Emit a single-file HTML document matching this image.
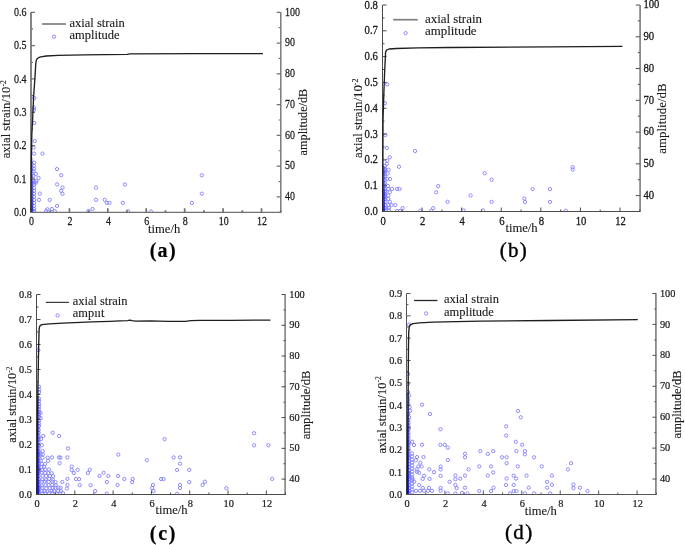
<!DOCTYPE html>
<html><head><meta charset="utf-8"><style>
html,body{margin:0;padding:0;background:#fff;width:685px;height:545px;overflow:hidden}
svg{display:block;will-change:transform}
text{font-family:"Liberation Serif", serif;fill:#1a1a1a;stroke:#1a1a1a;stroke-width:0.12px}
.lb{fill:#000;stroke:#000;stroke-width:0.2px}
.lb.r{stroke-width:0.4px}
.ax{fill:none}
.cv{fill:none;stroke:#1e1e1e;stroke-width:1.35;stroke-linejoin:round}
.sc{fill:none;stroke:#8080ff;stroke-width:0.9}
</style></head><body>
<svg width="685" height="545" viewBox="0 0 685 545">
<defs><clipPath id="ca"><rect x="31" y="7.3" width="249.7" height="205"/></clipPath><linearGradient id="ga" x1="0" y1="0" x2="0" y2="1"><stop offset="0" stop-color="#1818ff" stop-opacity="0.25"/><stop offset="1" stop-color="#1818ff" stop-opacity="0.85"/></linearGradient><clipPath id="cb"><rect x="382.5" y="0" width="257.3" height="211.5"/></clipPath><linearGradient id="gb" x1="0" y1="0" x2="0" y2="1"><stop offset="0" stop-color="#1818ff" stop-opacity="0.3"/><stop offset="1" stop-color="#1818ff" stop-opacity="0.9"/></linearGradient><clipPath id="cc"><rect x="36.5" y="289.5" width="249" height="205"/></clipPath><linearGradient id="gc" x1="0" y1="0" x2="0" y2="1"><stop offset="0" stop-color="#1818ff" stop-opacity="0.35"/><stop offset="1" stop-color="#1818ff" stop-opacity="1.0"/></linearGradient><clipPath id="cd"><rect x="406.5" y="288.5" width="249.8" height="206"/></clipPath><linearGradient id="gd" x1="0" y1="0" x2="0" y2="1"><stop offset="0" stop-color="#1818ff" stop-opacity="0.35"/><stop offset="1" stop-color="#1818ff" stop-opacity="1.0"/></linearGradient></defs>
<g><g class="sc" clip-path="url(#ca)"><circle cx="34.2" cy="98.1" r="1.65"/><circle cx="34" cy="107.6" r="1.65"/><circle cx="34" cy="109.8" r="1.65"/><circle cx="34.2" cy="123" r="1.65"/><circle cx="34.7" cy="141.1" r="1.65"/><circle cx="33.6" cy="147.6" r="1.65"/><circle cx="34.1" cy="153.6" r="1.65"/><circle cx="42.5" cy="153.6" r="1.65"/><circle cx="34.1" cy="162.7" r="1.65"/><circle cx="33.8" cy="165.8" r="1.65"/><circle cx="34.1" cy="168.8" r="1.65"/><circle cx="33.5" cy="171.2" r="1.65"/><circle cx="35.9" cy="173.9" r="1.65"/><circle cx="38.6" cy="177.9" r="1.65"/><circle cx="33.5" cy="176" r="1.65"/><circle cx="33.5" cy="180.9" r="1.65"/><circle cx="36.5" cy="180.9" r="1.65"/><circle cx="57" cy="169.1" r="1.65"/><circle cx="61.2" cy="175.2" r="1.65"/><circle cx="57.1" cy="184.4" r="1.65"/><circle cx="62.5" cy="187.5" r="1.65"/><circle cx="61.2" cy="190.8" r="1.65"/><circle cx="62.5" cy="193.8" r="1.65"/><circle cx="39.8" cy="193.6" r="1.65"/><circle cx="38.9" cy="199.9" r="1.65"/><circle cx="49.7" cy="199.9" r="1.65"/><circle cx="57" cy="205.9" r="1.65"/><circle cx="47.4" cy="209.3" r="1.65"/><circle cx="51.9" cy="209" r="1.65"/><circle cx="46.2" cy="211.1" r="1.65"/><circle cx="54.7" cy="211.1" r="1.65"/><circle cx="35.9" cy="182.6" r="1.65"/><circle cx="96" cy="187.6" r="1.65"/><circle cx="96" cy="199.8" r="1.65"/><circle cx="92.5" cy="209" r="1.65"/><circle cx="88.4" cy="211" r="1.65"/><circle cx="104.7" cy="199.8" r="1.65"/><circle cx="106.8" cy="202.9" r="1.65"/><circle cx="109.5" cy="202.9" r="1.65"/><circle cx="124.9" cy="184.5" r="1.65"/><circle cx="122.8" cy="202.9" r="1.65"/><circle cx="128" cy="211.3" r="1.65"/><circle cx="151" cy="211.6" r="1.65"/><circle cx="191.9" cy="202.9" r="1.65"/><circle cx="201.8" cy="175.3" r="1.65"/><circle cx="201.8" cy="193.7" r="1.65"/><circle cx="34.1" cy="182.6" r="1.65"/><circle cx="34.1" cy="184.7" r="1.65"/><circle cx="34.1" cy="188" r="1.65"/><circle cx="34.1" cy="190.8" r="1.65"/><circle cx="34.1" cy="193.8" r="1.65"/><circle cx="34.1" cy="196.8" r="1.65"/><circle cx="34.1" cy="199.9" r="1.65"/><circle cx="34.1" cy="202.9" r="1.65"/><circle cx="34.1" cy="205.9" r="1.65"/><circle cx="34.1" cy="209" r="1.65"/><circle cx="34.1" cy="211.1" r="1.65"/></g><rect x="31.3" y="158" width="2" height="54" fill="url(#ga)"/><path class="ax" stroke="#707070" stroke-width="1.7" d="M31 12.3V212.9"/><path class="ax" stroke="#727272" stroke-width="1.4" d="M280.8 12.3V212.9"/><path class="ax" stroke="#707070" stroke-width="1.2" d="M31 212.3H280.7"/><text class="tk" style="stroke-width:0.25px" transform="translate(26.4,215.9) scale(0.86,1)" font-size="11.6" text-anchor="end">0.0</text><text class="tk" style="stroke-width:0.25px" transform="translate(26.4,182.57) scale(0.86,1)" font-size="11.6" text-anchor="end">0.1</text><text class="tk" style="stroke-width:0.25px" transform="translate(26.4,149.23) scale(0.86,1)" font-size="11.6" text-anchor="end">0.2</text><text class="tk" style="stroke-width:0.25px" transform="translate(26.4,115.9) scale(0.86,1)" font-size="11.6" text-anchor="end">0.3</text><text class="tk" style="stroke-width:0.25px" transform="translate(26.4,82.57) scale(0.86,1)" font-size="11.6" text-anchor="end">0.4</text><text class="tk" style="stroke-width:0.25px" transform="translate(26.4,49.23) scale(0.86,1)" font-size="11.6" text-anchor="end">0.5</text><text class="tk" style="stroke-width:0.25px" transform="translate(26.4,15.9) scale(0.86,1)" font-size="11.6" text-anchor="end">0.6</text><text class="tk" style="stroke-width:0.25px" transform="translate(285,200.24) scale(0.86,1)" font-size="11.6" text-anchor="start">40</text><text class="tk" style="stroke-width:0.25px" transform="translate(285,169.47) scale(0.86,1)" font-size="11.6" text-anchor="start">50</text><text class="tk" style="stroke-width:0.25px" transform="translate(285,138.7) scale(0.86,1)" font-size="11.6" text-anchor="start">60</text><text class="tk" style="stroke-width:0.25px" transform="translate(285,107.94) scale(0.86,1)" font-size="11.6" text-anchor="start">70</text><text class="tk" style="stroke-width:0.25px" transform="translate(285,77.17) scale(0.86,1)" font-size="11.6" text-anchor="start">80</text><text class="tk" style="stroke-width:0.25px" transform="translate(285,46.4) scale(0.86,1)" font-size="11.6" text-anchor="start">90</text><text class="tk" style="stroke-width:0.25px" transform="translate(285,15.63) scale(0.86,1)" font-size="11.6" text-anchor="start">100</text><text class="tk" style="stroke-width:0.25px" transform="translate(31.6,225.2) scale(0.86,1)" font-size="11.6" text-anchor="middle">0</text><text class="tk" style="stroke-width:0.25px" transform="translate(70.02,225.2) scale(0.86,1)" font-size="11.6" text-anchor="middle">2</text><text class="tk" style="stroke-width:0.25px" transform="translate(108.43,225.2) scale(0.86,1)" font-size="11.6" text-anchor="middle">4</text><text class="tk" style="stroke-width:0.25px" transform="translate(146.85,225.2) scale(0.86,1)" font-size="11.6" text-anchor="middle">6</text><text class="tk" style="stroke-width:0.25px" transform="translate(185.26,225.2) scale(0.86,1)" font-size="11.6" text-anchor="middle">8</text><text class="tk" style="stroke-width:0.25px" transform="translate(223.68,225.2) scale(0.86,1)" font-size="11.6" text-anchor="middle">10</text><text class="tk" style="stroke-width:0.25px" transform="translate(262.09,225.2) scale(0.86,1)" font-size="11.6" text-anchor="middle">12</text><path class="ax" stroke="#707070" stroke-width="1.7" d="M31 212.3v-4M50.21 212.3v-2M69.42 212.3v-4M88.62 212.3v-2M107.83 212.3v-4M127.04 212.3v-2M146.25 212.3v-4M165.45 212.3v-2M184.66 212.3v-4M203.87 212.3v-2M223.08 212.3v-4M242.28 212.3v-2M261.49 212.3v-4M280.7 212.3v-2"/><path class="ax" stroke="#707070" stroke-width="1.2" d="M31 212.3h4M31 195.63h2M31 178.97h4M31 162.3h2M31 145.63h4M31 128.97h2M31 112.3h4M31 95.63h2M31 78.97h4M31 62.3h2M31 45.63h4M31 28.97h2M31 12.3h4M280.7 196.92h-4M280.7 181.53h-2M280.7 166.15h-4M280.7 150.76h-2M280.7 135.38h-4M280.7 119.99h-2M280.7 104.61h-4M280.7 89.22h-2M280.7 73.84h-4M280.7 58.45h-2M280.7 43.07h-4M280.7 27.68h-2M280.7 12.3h-4"/><polyline class="cv" points="31,212 31.2,170 31.8,135 32.6,120 33.7,95 34.9,78.5 35.8,63.3 36.4,60 37.2,58.8 38.5,57.7 40.8,56.9 46.3,56 58,55.4 84.5,54.8 127,54.4 130,53.9 200,53.7 263,53.6"/><path fill="none" stroke="#7e7e7e" stroke-width="1.7" d="M42 24H66"/><circle class="sc" cx="54" cy="36.7" r="1.65"/><text class="lg" font-size="12.5" x="69.5" y="26.7">axial strain</text><text class="lg" font-size="12.5" x="69.5" y="39.4">amplitude</text><text class="ti" font-size="12.6" transform="translate(10.2,119.3) rotate(-90)" text-anchor="middle">axial strain/10<tspan dy="-4.5" font-size="7.6">-2</tspan></text><text class="ti" font-size="12.25" transform="translate(306.8,122.05) rotate(-90)" text-anchor="middle">amplitude/dB</text><text class="ti" font-size="12.55" x="148.1" y="233.2">time/h</text><text class="lb" font-size="20" letter-spacing="1.3" x="163.25" y="256.7" text-anchor="middle" font-weight="bold">(a)</text></g>
<g><g class="sc" clip-path="url(#cb)"><circle cx="387.1" cy="84.3" r="1.65"/><circle cx="384.9" cy="103.3" r="1.65"/><circle cx="385.4" cy="135.1" r="1.65"/><circle cx="386.8" cy="147.9" r="1.65"/><circle cx="415.1" cy="151" r="1.65"/><circle cx="389.8" cy="157.3" r="1.65"/><circle cx="387.2" cy="160.6" r="1.65"/><circle cx="386.8" cy="163.9" r="1.65"/><circle cx="399" cy="166.8" r="1.65"/><circle cx="385" cy="170.1" r="1.65"/><circle cx="388.7" cy="169.8" r="1.65"/><circle cx="387.6" cy="173.5" r="1.65"/><circle cx="385" cy="176.4" r="1.65"/><circle cx="387.2" cy="179" r="1.65"/><circle cx="390.1" cy="179" r="1.65"/><circle cx="385" cy="183.1" r="1.65"/><circle cx="387.9" cy="186" r="1.65"/><circle cx="385" cy="189" r="1.65"/><circle cx="388.3" cy="189" r="1.65"/><circle cx="392" cy="189" r="1.65"/><circle cx="397.1" cy="189" r="1.65"/><circle cx="399.5" cy="189" r="1.65"/><circle cx="385.7" cy="192.3" r="1.65"/><circle cx="389.8" cy="192.3" r="1.65"/><circle cx="385" cy="195.6" r="1.65"/><circle cx="388.3" cy="195.6" r="1.65"/><circle cx="385" cy="198.9" r="1.65"/><circle cx="388.3" cy="198.9" r="1.65"/><circle cx="385.4" cy="201.8" r="1.65"/><circle cx="389.8" cy="201.8" r="1.65"/><circle cx="385.4" cy="205.1" r="1.65"/><circle cx="388.3" cy="205.1" r="1.65"/><circle cx="391.6" cy="205.1" r="1.65"/><circle cx="395.3" cy="205.1" r="1.65"/><circle cx="385" cy="208.1" r="1.65"/><circle cx="389" cy="208.1" r="1.65"/><circle cx="402.6" cy="208.1" r="1.65"/><circle cx="385.4" cy="210.3" r="1.65"/><circle cx="389" cy="210.3" r="1.65"/><circle cx="397.1" cy="211" r="1.65"/><circle cx="400" cy="211" r="1.65"/><circle cx="438.2" cy="186.1" r="1.65"/><circle cx="436.2" cy="192.3" r="1.65"/><circle cx="447.6" cy="201.8" r="1.65"/><circle cx="470.6" cy="195.5" r="1.65"/><circle cx="433.2" cy="208.2" r="1.65"/><circle cx="431.2" cy="210.8" r="1.65"/><circle cx="420.3" cy="210.8" r="1.65"/><circle cx="463.6" cy="210.4" r="1.65"/><circle cx="484.7" cy="173.3" r="1.65"/><circle cx="491.6" cy="179.6" r="1.65"/><circle cx="491.6" cy="201.9" r="1.65"/><circle cx="483.1" cy="210.4" r="1.65"/><circle cx="524.3" cy="198.5" r="1.65"/><circle cx="525" cy="201.9" r="1.65"/><circle cx="532.6" cy="189.1" r="1.65"/><circle cx="550" cy="189.1" r="1.65"/><circle cx="550" cy="201.9" r="1.65"/><circle cx="572.7" cy="167.1" r="1.65"/><circle cx="572.7" cy="169.6" r="1.65"/><circle cx="565.8" cy="210.8" r="1.65"/><circle cx="384.9" cy="166" r="1.65"/><circle cx="384.9" cy="168.8" r="1.65"/><circle cx="384.9" cy="171.6" r="1.65"/><circle cx="384.9" cy="174.4" r="1.65"/><circle cx="384.9" cy="180" r="1.65"/><circle cx="384.9" cy="185.6" r="1.65"/><circle cx="384.9" cy="191.2" r="1.65"/><circle cx="384.9" cy="194" r="1.65"/><circle cx="384.9" cy="196.8" r="1.65"/></g><rect x="383.2" y="166" width="2" height="45" fill="url(#gb)"/><path class="ax" stroke="#4a4a4a" stroke-width="1.0" d="M382.5 5V212"/><path class="ax" stroke="#8a8a8a" stroke-width="1.8" d="M640.1 5V212"/><path class="ax" stroke="#4a4a4a" stroke-width="1.0" d="M382.5 211.5H639.8"/><text class="tk" style="stroke-width:0.3px" transform="translate(377.9,215.1) scale(0.92,1)" font-size="11.6" text-anchor="end">0.0</text><text class="tk" style="stroke-width:0.3px" transform="translate(377.9,189.29) scale(0.92,1)" font-size="11.6" text-anchor="end">0.1</text><text class="tk" style="stroke-width:0.3px" transform="translate(377.9,163.47) scale(0.92,1)" font-size="11.6" text-anchor="end">0.2</text><text class="tk" style="stroke-width:0.3px" transform="translate(377.9,137.66) scale(0.92,1)" font-size="11.6" text-anchor="end">0.3</text><text class="tk" style="stroke-width:0.3px" transform="translate(377.9,111.85) scale(0.92,1)" font-size="11.6" text-anchor="end">0.4</text><text class="tk" style="stroke-width:0.3px" transform="translate(377.9,86.04) scale(0.92,1)" font-size="11.6" text-anchor="end">0.5</text><text class="tk" style="stroke-width:0.3px" transform="translate(377.9,60.22) scale(0.92,1)" font-size="11.6" text-anchor="end">0.6</text><text class="tk" style="stroke-width:0.3px" transform="translate(377.9,34.41) scale(0.92,1)" font-size="11.6" text-anchor="end">0.7</text><text class="tk" style="stroke-width:0.3px" transform="translate(377.9,8.6) scale(0.92,1)" font-size="11.6" text-anchor="end">0.8</text><text class="tk" style="stroke-width:0.3px" transform="translate(643.4,198.94) scale(0.92,1)" font-size="11.6" text-anchor="start">40</text><text class="tk" style="stroke-width:0.3px" transform="translate(643.4,167.17) scale(0.92,1)" font-size="11.6" text-anchor="start">50</text><text class="tk" style="stroke-width:0.3px" transform="translate(643.4,135.4) scale(0.92,1)" font-size="11.6" text-anchor="start">60</text><text class="tk" style="stroke-width:0.3px" transform="translate(643.4,103.64) scale(0.92,1)" font-size="11.6" text-anchor="start">70</text><text class="tk" style="stroke-width:0.3px" transform="translate(643.4,71.87) scale(0.92,1)" font-size="11.6" text-anchor="start">80</text><text class="tk" style="stroke-width:0.3px" transform="translate(643.4,40.1) scale(0.92,1)" font-size="11.6" text-anchor="start">90</text><text class="tk" style="stroke-width:0.3px" transform="translate(643.4,8.33) scale(0.92,1)" font-size="11.6" text-anchor="start">100</text><text class="tk" style="stroke-width:0.3px" transform="translate(383.1,224.6) scale(0.92,1)" font-size="11.6" text-anchor="middle">0</text><text class="tk" style="stroke-width:0.3px" transform="translate(422.68,224.6) scale(0.92,1)" font-size="11.6" text-anchor="middle">2</text><text class="tk" style="stroke-width:0.3px" transform="translate(462.27,224.6) scale(0.92,1)" font-size="11.6" text-anchor="middle">4</text><text class="tk" style="stroke-width:0.3px" transform="translate(501.85,224.6) scale(0.92,1)" font-size="11.6" text-anchor="middle">6</text><text class="tk" style="stroke-width:0.3px" transform="translate(541.44,224.6) scale(0.92,1)" font-size="11.6" text-anchor="middle">8</text><text class="tk" style="stroke-width:0.3px" transform="translate(581.02,224.6) scale(0.92,1)" font-size="11.6" text-anchor="middle">10</text><text class="tk" style="stroke-width:0.3px" transform="translate(620.61,224.6) scale(0.92,1)" font-size="11.6" text-anchor="middle">12</text><path class="ax" stroke="#4a4a4a" stroke-width="1.0" d="M382.5 211.5v-4M402.29 211.5v-2M422.08 211.5v-4M441.88 211.5v-2M461.67 211.5v-4M481.46 211.5v-2M501.25 211.5v-4M521.05 211.5v-2M540.84 211.5v-4M560.63 211.5v-2M580.42 211.5v-4M600.22 211.5v-2M620.01 211.5v-4M639.8 211.5v-2"/><path class="ax" stroke="#4a4a4a" stroke-width="1.0" d="M382.5 211.5h4M382.5 198.59h2M382.5 185.69h4M382.5 172.78h2M382.5 159.88h4M382.5 146.97h2M382.5 134.06h4M382.5 121.16h2M382.5 108.25h4M382.5 95.34h2M382.5 82.44h4M382.5 69.53h2M382.5 56.62h4M382.5 43.72h2M382.5 30.81h4M382.5 17.91h2M382.5 5h4M639.8 195.62h-4M639.8 179.73h-2M639.8 163.85h-4M639.8 147.96h-2M639.8 132.08h-4M639.8 116.19h-2M639.8 100.31h-4M639.8 84.42h-2M639.8 68.54h-4M639.8 52.65h-2M639.8 36.77h-4M639.8 20.88h-2M639.8 5h-4"/><polyline class="cv" points="382.8,211.3 383,120 383.8,95 384.5,75 385,64.4 385.4,56.3 385.6,51.9 386.5,50.1 389,49 396.4,48.5 418,47.9 450,47.5 550,46.9 622.5,46.4"/><path fill="none" stroke="#7e7e7e" stroke-width="1.7" d="M393.2 19.7H417.7"/><circle class="sc" cx="405.6" cy="33.1" r="1.65"/><text class="lg" font-size="12.9" x="425" y="22.6">axial strain</text><text class="lg" font-size="12.9" x="425" y="35.4">amplitude</text><text class="ti" font-size="12.8" transform="translate(362,118.4) rotate(-90)" text-anchor="middle">axial strain/10<tspan dy="-4.5" font-size="7.7">-2</tspan></text><text class="ti" font-size="12.9" transform="translate(666,118.6) rotate(-90)" text-anchor="middle">amplitude/dB</text><text class="ti" font-size="12.65" x="505.4" y="231.6">time/h</text><text class="lb r" font-size="21" letter-spacing="1.2" x="513.8" y="257" text-anchor="middle">(b)</text></g>
<g><g class="sc" clip-path="url(#cc)"><circle cx="38.3" cy="350.1" r="1.65"/><circle cx="39" cy="386.7" r="1.65"/><circle cx="39" cy="389.6" r="1.65"/><circle cx="39" cy="392.1" r="1.65"/><circle cx="39" cy="398.7" r="1.65"/><circle cx="39" cy="401.2" r="1.65"/><circle cx="39" cy="404.1" r="1.65"/><circle cx="39" cy="406.6" r="1.65"/><circle cx="39" cy="409.4" r="1.65"/><circle cx="39" cy="411.9" r="1.65"/><circle cx="39" cy="414.4" r="1.65"/><circle cx="39" cy="416.9" r="1.65"/><circle cx="39" cy="420.6" r="1.65"/><circle cx="39" cy="423.5" r="1.65"/><circle cx="39" cy="426" r="1.65"/><circle cx="40.6" cy="413" r="1.65"/><circle cx="40.6" cy="418" r="1.65"/><circle cx="38.6" cy="429.8" r="1.65"/><circle cx="38.6" cy="432.7" r="1.65"/><circle cx="38.6" cy="436" r="1.65"/><circle cx="38.6" cy="439" r="1.65"/><circle cx="38.6" cy="442.3" r="1.65"/><circle cx="38.6" cy="445.2" r="1.65"/><circle cx="38.6" cy="448.2" r="1.65"/><circle cx="38.6" cy="451.1" r="1.65"/><circle cx="38.6" cy="454.4" r="1.65"/><circle cx="38.6" cy="457.4" r="1.65"/><circle cx="38.6" cy="461" r="1.65"/><circle cx="38.6" cy="464" r="1.65"/><circle cx="43.3" cy="436" r="1.65"/><circle cx="52.7" cy="432.9" r="1.65"/><circle cx="59.1" cy="436" r="1.65"/><circle cx="41.1" cy="439" r="1.65"/><circle cx="41.8" cy="445.2" r="1.65"/><circle cx="68.1" cy="448.4" r="1.65"/><circle cx="42.6" cy="451.1" r="1.65"/><circle cx="42.9" cy="454.4" r="1.65"/><circle cx="40.4" cy="454.4" r="1.65"/><circle cx="42.6" cy="457.7" r="1.65"/><circle cx="47.7" cy="457.7" r="1.65"/><circle cx="52" cy="457.4" r="1.65"/><circle cx="59.1" cy="457.4" r="1.65"/><circle cx="67.4" cy="457.4" r="1.65"/><circle cx="48.1" cy="460.8" r="1.65"/><circle cx="40.7" cy="460.8" r="1.65"/><circle cx="59.6" cy="463.2" r="1.65"/><circle cx="41.84" cy="463.93" r="1.65"/><circle cx="45.07" cy="463.91" r="1.65"/><circle cx="38.55" cy="466.46" r="1.65"/><circle cx="41.45" cy="467.06" r="1.65"/><circle cx="44.24" cy="466.9" r="1.65"/><circle cx="38.66" cy="469.72" r="1.65"/><circle cx="42.21" cy="470.09" r="1.65"/><circle cx="45.43" cy="469.49" r="1.65"/><circle cx="49.14" cy="469.54" r="1.65"/><circle cx="38.71" cy="472.9" r="1.65"/><circle cx="41.71" cy="472.65" r="1.65"/><circle cx="45.25" cy="472.94" r="1.65"/><circle cx="48.35" cy="472.96" r="1.65"/><circle cx="51.68" cy="473.16" r="1.65"/><circle cx="38.66" cy="476.02" r="1.65"/><circle cx="42.63" cy="475.83" r="1.65"/><circle cx="46.12" cy="475.93" r="1.65"/><circle cx="49.86" cy="475.99" r="1.65"/><circle cx="53.12" cy="476.21" r="1.65"/><circle cx="38.9" cy="479.15" r="1.65"/><circle cx="42.31" cy="479.36" r="1.65"/><circle cx="45.85" cy="479.66" r="1.65"/><circle cx="49.08" cy="478.95" r="1.65"/><circle cx="52.71" cy="479.69" r="1.65"/><circle cx="38.43" cy="481.81" r="1.65"/><circle cx="41.82" cy="481.87" r="1.65"/><circle cx="44.9" cy="481.55" r="1.65"/><circle cx="48.63" cy="481.7" r="1.65"/><circle cx="52.49" cy="481.56" r="1.65"/><circle cx="55.57" cy="482.21" r="1.65"/><circle cx="38.89" cy="485.02" r="1.65"/><circle cx="41.79" cy="485.51" r="1.65"/><circle cx="45.57" cy="484.94" r="1.65"/><circle cx="48.71" cy="485.19" r="1.65"/><circle cx="52.24" cy="484.8" r="1.65"/><circle cx="55.63" cy="485.25" r="1.65"/><circle cx="38.75" cy="488.11" r="1.65"/><circle cx="42.28" cy="487.74" r="1.65"/><circle cx="46.24" cy="488.4" r="1.65"/><circle cx="49.69" cy="488.02" r="1.65"/><circle cx="52.81" cy="487.75" r="1.65"/><circle cx="55.35" cy="487.83" r="1.65"/><circle cx="58.43" cy="487.7" r="1.65"/><circle cx="38.28" cy="490.99" r="1.65"/><circle cx="41.73" cy="491.19" r="1.65"/><circle cx="44.21" cy="490.98" r="1.65"/><circle cx="47.34" cy="491.38" r="1.65"/><circle cx="51.61" cy="491.09" r="1.65"/><circle cx="54.22" cy="490.97" r="1.65"/><circle cx="57.92" cy="490.83" r="1.65"/><circle cx="60.85" cy="491.12" r="1.65"/><circle cx="38.63" cy="492.92" r="1.65"/><circle cx="42.42" cy="493.59" r="1.65"/><circle cx="45.48" cy="493.19" r="1.65"/><circle cx="48.89" cy="493.33" r="1.65"/><circle cx="52.27" cy="493.08" r="1.65"/><circle cx="56.57" cy="493.58" r="1.65"/><circle cx="60.2" cy="493.49" r="1.65"/><circle cx="63.03" cy="493.18" r="1.65"/><circle cx="60.5" cy="457.6" r="1.65"/><circle cx="71.7" cy="466.6" r="1.65"/><circle cx="71.7" cy="470" r="1.65"/><circle cx="73.8" cy="473" r="1.65"/><circle cx="77.6" cy="469.8" r="1.65"/><circle cx="89.8" cy="469.8" r="1.65"/><circle cx="87.9" cy="473" r="1.65"/><circle cx="103.6" cy="472.8" r="1.65"/><circle cx="99.6" cy="476" r="1.65"/><circle cx="108.4" cy="476" r="1.65"/><circle cx="67.4" cy="478.8" r="1.65"/><circle cx="76" cy="479.1" r="1.65"/><circle cx="79.1" cy="479.1" r="1.65"/><circle cx="62.3" cy="482" r="1.65"/><circle cx="67.4" cy="484.9" r="1.65"/><circle cx="66.9" cy="488.4" r="1.65"/><circle cx="79.7" cy="485.2" r="1.65"/><circle cx="90.6" cy="485.2" r="1.65"/><circle cx="106.8" cy="482" r="1.65"/><circle cx="95.1" cy="491.1" r="1.65"/><circle cx="106.8" cy="493.7" r="1.65"/><circle cx="60.5" cy="487.9" r="1.65"/><circle cx="164.6" cy="439.1" r="1.65"/><circle cx="118.3" cy="454.6" r="1.65"/><circle cx="146.8" cy="460.3" r="1.65"/><circle cx="118.1" cy="475.9" r="1.65"/><circle cx="124.3" cy="479" r="1.65"/><circle cx="132.7" cy="479" r="1.65"/><circle cx="132.2" cy="482.1" r="1.65"/><circle cx="117.5" cy="484.9" r="1.65"/><circle cx="161.1" cy="479" r="1.65"/><circle cx="163.6" cy="479" r="1.65"/><circle cx="153" cy="484.9" r="1.65"/><circle cx="152.1" cy="488" r="1.65"/><circle cx="153.6" cy="491.1" r="1.65"/><circle cx="173.7" cy="457.4" r="1.65"/><circle cx="180" cy="457.4" r="1.65"/><circle cx="180" cy="463.7" r="1.65"/><circle cx="177.1" cy="469.9" r="1.65"/><circle cx="189.3" cy="469.9" r="1.65"/><circle cx="189.3" cy="482.1" r="1.65"/><circle cx="180" cy="484.9" r="1.65"/><circle cx="180" cy="488" r="1.65"/><circle cx="204.9" cy="481.7" r="1.65"/><circle cx="202.6" cy="484.9" r="1.65"/><circle cx="177.1" cy="493.8" r="1.65"/><circle cx="254.1" cy="433.2" r="1.65"/><circle cx="254.1" cy="445.3" r="1.65"/><circle cx="268.4" cy="445.3" r="1.65"/><circle cx="272.2" cy="478.9" r="1.65"/><circle cx="226.4" cy="488.2" r="1.65"/><circle cx="38.6" cy="453" r="1.65"/><circle cx="38.6" cy="455.6" r="1.65"/><circle cx="38.6" cy="468.6" r="1.65"/><circle cx="38.6" cy="471.2" r="1.65"/><circle cx="38.6" cy="486.8" r="1.65"/><circle cx="38.6" cy="489.4" r="1.65"/></g><rect x="37.1" y="396" width="2.2" height="98" fill="url(#gc)"/><path class="ax" stroke="#4a4a4a" stroke-width="1.0" d="M36.5 294.5V495"/><path class="ax" stroke="#666666" stroke-width="1.3" d="M285.1 294.5V495"/><path class="ax" stroke="#4a4a4a" stroke-width="1.0" d="M36.5 494.5H285.5"/><text class="tk" style="stroke-width:0.22px" transform="translate(31.9,498.1) scale(0.94,1)" font-size="11" text-anchor="end">0.0</text><text class="tk" style="stroke-width:0.22px" transform="translate(31.9,473.1) scale(0.94,1)" font-size="11" text-anchor="end">0.1</text><text class="tk" style="stroke-width:0.22px" transform="translate(31.9,448.1) scale(0.94,1)" font-size="11" text-anchor="end">0.2</text><text class="tk" style="stroke-width:0.22px" transform="translate(31.9,423.1) scale(0.94,1)" font-size="11" text-anchor="end">0.3</text><text class="tk" style="stroke-width:0.22px" transform="translate(31.9,398.1) scale(0.94,1)" font-size="11" text-anchor="end">0.4</text><text class="tk" style="stroke-width:0.22px" transform="translate(31.9,373.1) scale(0.94,1)" font-size="11" text-anchor="end">0.5</text><text class="tk" style="stroke-width:0.22px" transform="translate(31.9,348.1) scale(0.94,1)" font-size="11" text-anchor="end">0.6</text><text class="tk" style="stroke-width:0.22px" transform="translate(31.9,323.1) scale(0.94,1)" font-size="11" text-anchor="end">0.7</text><text class="tk" style="stroke-width:0.22px" transform="translate(31.9,298.1) scale(0.94,1)" font-size="11" text-anchor="end">0.8</text><text class="tk" style="stroke-width:0.22px" transform="translate(289.3,482.25) scale(0.94,1)" font-size="11" text-anchor="start">40</text><text class="tk" style="stroke-width:0.22px" transform="translate(289.3,451.48) scale(0.94,1)" font-size="11" text-anchor="start">50</text><text class="tk" style="stroke-width:0.22px" transform="translate(289.3,420.71) scale(0.94,1)" font-size="11" text-anchor="start">60</text><text class="tk" style="stroke-width:0.22px" transform="translate(289.3,389.94) scale(0.94,1)" font-size="11" text-anchor="start">70</text><text class="tk" style="stroke-width:0.22px" transform="translate(289.3,359.17) scale(0.94,1)" font-size="11" text-anchor="start">80</text><text class="tk" style="stroke-width:0.22px" transform="translate(289.3,328.4) scale(0.94,1)" font-size="11" text-anchor="start">90</text><text class="tk" style="stroke-width:0.22px" transform="translate(289.3,297.63) scale(0.94,1)" font-size="11" text-anchor="start">100</text><text class="tk" style="stroke-width:0.22px" transform="translate(37.1,507.2) scale(0.94,1)" font-size="11" text-anchor="middle">0</text><text class="tk" style="stroke-width:0.22px" transform="translate(75.41,507.2) scale(0.94,1)" font-size="11" text-anchor="middle">2</text><text class="tk" style="stroke-width:0.22px" transform="translate(113.72,507.2) scale(0.94,1)" font-size="11" text-anchor="middle">4</text><text class="tk" style="stroke-width:0.22px" transform="translate(152.02,507.2) scale(0.94,1)" font-size="11" text-anchor="middle">6</text><text class="tk" style="stroke-width:0.22px" transform="translate(190.33,507.2) scale(0.94,1)" font-size="11" text-anchor="middle">8</text><text class="tk" style="stroke-width:0.22px" transform="translate(228.64,507.2) scale(0.94,1)" font-size="11" text-anchor="middle">10</text><text class="tk" style="stroke-width:0.22px" transform="translate(266.95,507.2) scale(0.94,1)" font-size="11" text-anchor="middle">12</text><path class="ax" stroke="#4a4a4a" stroke-width="1.0" d="M36.5 494.5v-4M55.65 494.5v-2M74.81 494.5v-4M93.96 494.5v-2M113.12 494.5v-4M132.27 494.5v-2M151.42 494.5v-4M170.58 494.5v-2M189.73 494.5v-4M208.88 494.5v-2M228.04 494.5v-4M247.19 494.5v-2M266.35 494.5v-4M285.5 494.5v-2"/><path class="ax" stroke="#4a4a4a" stroke-width="1.0" d="M36.5 494.5h4M36.5 482h2M36.5 469.5h4M36.5 457h2M36.5 444.5h4M36.5 432h2M36.5 419.5h4M36.5 407h2M36.5 394.5h4M36.5 382h2M36.5 369.5h4M36.5 357h2M36.5 344.5h4M36.5 332h2M36.5 319.5h4M36.5 307h2M36.5 294.5h4M285.5 479.12h-4M285.5 463.73h-2M285.5 448.35h-4M285.5 432.96h-2M285.5 417.58h-4M285.5 402.19h-2M285.5 386.81h-4M285.5 371.42h-2M285.5 356.04h-4M285.5 340.65h-2M285.5 325.27h-4M285.5 309.88h-2M285.5 294.5h-4"/><polyline class="cv" points="37,494 37.5,420 37.9,390 38.3,365 38.7,345 39.1,329.3 39.6,326.5 40.5,325.3 41.8,324.7 49.5,323.8 63,323.2 92,321.8 110,321.3 120,320.9 127.5,320.7 129.9,320.1 132,320.6 135.7,321.2 150,320.9 168,321.3 185,321.3 191,320.6 200,320.4 230,320.3 270.5,320.1"/><path fill="none" stroke="#3a3a3a" stroke-width="1.2" d="M45.8 302.4H68.9"/><circle class="sc" cx="57.6" cy="315.5" r="1.65"/><text class="lg" font-size="12.4" x="72.8" y="305.3">axial strain</text><text class="lg" font-size="12.4" x="72.8" y="317.4">amp&#305;&#305;t</text><text class="ti" font-size="12.3" transform="translate(16.1,404.7) rotate(-90)" text-anchor="middle">axial strain/10<tspan dy="-4.5" font-size="7.4">-2</tspan></text><text class="ti" font-size="12.66" transform="translate(309.5,404.9) rotate(-90)" text-anchor="middle">amplitude/dB</text><text class="ti" font-size="12.55" x="155.5" y="513.8">time/h</text><text class="lb" font-size="20" letter-spacing="1.7" x="163.45" y="539.8" text-anchor="middle" font-weight="bold">(c)</text></g>
<g><g class="sc" clip-path="url(#cd)"><circle cx="409.1" cy="324.6" r="1.65"/><circle cx="408" cy="374.1" r="1.65"/><circle cx="408" cy="383.7" r="1.65"/><circle cx="408" cy="392" r="1.65"/><circle cx="409.1" cy="395.5" r="1.65"/><circle cx="408" cy="399.7" r="1.65"/><circle cx="408" cy="403.5" r="1.65"/><circle cx="409.6" cy="407.4" r="1.65"/><circle cx="410.2" cy="410.7" r="1.65"/><circle cx="408" cy="414" r="1.65"/><circle cx="409.1" cy="417.1" r="1.65"/><circle cx="422" cy="404.7" r="1.65"/><circle cx="430" cy="414" r="1.65"/><circle cx="408.5" cy="419.8" r="1.65"/><circle cx="408.5" cy="422.7" r="1.65"/><circle cx="408.5" cy="425.7" r="1.65"/><circle cx="408.5" cy="429.3" r="1.65"/><circle cx="408.5" cy="432.6" r="1.65"/><circle cx="408.5" cy="435.6" r="1.65"/><circle cx="408.5" cy="438.9" r="1.65"/><circle cx="408.5" cy="441.8" r="1.65"/><circle cx="408.5" cy="445.1" r="1.65"/><circle cx="408.5" cy="448.1" r="1.65"/><circle cx="408.5" cy="451" r="1.65"/><circle cx="408.5" cy="454" r="1.65"/><circle cx="412.2" cy="441.8" r="1.65"/><circle cx="414" cy="445" r="1.65"/><circle cx="422" cy="444.8" r="1.65"/><circle cx="440.4" cy="429.3" r="1.65"/><circle cx="440.4" cy="444.8" r="1.65"/><circle cx="409.2" cy="458" r="1.65"/><circle cx="409.2" cy="461" r="1.65"/><circle cx="409.2" cy="464" r="1.65"/><circle cx="409.2" cy="467" r="1.65"/><circle cx="409.2" cy="470" r="1.65"/><circle cx="409.2" cy="473" r="1.65"/><circle cx="409.2" cy="476" r="1.65"/><circle cx="409.2" cy="479" r="1.65"/><circle cx="409.2" cy="482" r="1.65"/><circle cx="409.2" cy="485" r="1.65"/><circle cx="409.2" cy="488" r="1.65"/><circle cx="409.2" cy="491" r="1.65"/><circle cx="409.2" cy="494" r="1.65"/><circle cx="412.1" cy="453.5" r="1.65"/><circle cx="412.1" cy="456.5" r="1.65"/><circle cx="412.1" cy="459.5" r="1.65"/><circle cx="412.1" cy="462.5" r="1.65"/><circle cx="412.1" cy="465.5" r="1.65"/><circle cx="412.1" cy="468.5" r="1.65"/><circle cx="412.1" cy="471.5" r="1.65"/><circle cx="412.1" cy="474.5" r="1.65"/><circle cx="412.1" cy="477.5" r="1.65"/><circle cx="412.1" cy="480.5" r="1.65"/><circle cx="412.1" cy="483.5" r="1.65"/><circle cx="412.1" cy="486.5" r="1.65"/><circle cx="412.1" cy="489.5" r="1.65"/><circle cx="412.1" cy="492.5" r="1.65"/><circle cx="417" cy="457.1" r="1.65"/><circle cx="423.5" cy="457.1" r="1.65"/><circle cx="415.8" cy="460.3" r="1.65"/><circle cx="420.4" cy="462.7" r="1.65"/><circle cx="418.3" cy="466.5" r="1.65"/><circle cx="421.6" cy="466.5" r="1.65"/><circle cx="416.6" cy="469.4" r="1.65"/><circle cx="429.3" cy="469.4" r="1.65"/><circle cx="434" cy="472.2" r="1.65"/><circle cx="419.1" cy="472.7" r="1.65"/><circle cx="417" cy="471.8" r="1.65"/><circle cx="440.6" cy="466.5" r="1.65"/><circle cx="440.6" cy="469.4" r="1.65"/><circle cx="440.6" cy="475.8" r="1.65"/><circle cx="424.1" cy="475.8" r="1.65"/><circle cx="422.7" cy="478.9" r="1.65"/><circle cx="429.6" cy="478.9" r="1.65"/><circle cx="412.5" cy="478.9" r="1.65"/><circle cx="414.2" cy="481.8" r="1.65"/><circle cx="419.1" cy="485.1" r="1.65"/><circle cx="422.8" cy="488" r="1.65"/><circle cx="429" cy="488" r="1.65"/><circle cx="440.6" cy="488" r="1.65"/><circle cx="440.6" cy="490.8" r="1.65"/><circle cx="416" cy="490.8" r="1.65"/><circle cx="420" cy="490.8" r="1.65"/><circle cx="424" cy="490.8" r="1.65"/><circle cx="428" cy="490.8" r="1.65"/><circle cx="432" cy="490.8" r="1.65"/><circle cx="444.8" cy="444.8" r="1.65"/><circle cx="447.8" cy="447.7" r="1.65"/><circle cx="447.8" cy="460.1" r="1.65"/><circle cx="465" cy="453.7" r="1.65"/><circle cx="465" cy="457.3" r="1.65"/><circle cx="480.3" cy="451.1" r="1.65"/><circle cx="487.8" cy="453.9" r="1.65"/><circle cx="493.2" cy="451.1" r="1.65"/><circle cx="468.6" cy="469.4" r="1.65"/><circle cx="479.3" cy="466.4" r="1.65"/><circle cx="491" cy="466.4" r="1.65"/><circle cx="493.2" cy="472.4" r="1.65"/><circle cx="455.4" cy="475.6" r="1.65"/><circle cx="455.4" cy="479.2" r="1.65"/><circle cx="460.2" cy="478.6" r="1.65"/><circle cx="465" cy="475.6" r="1.65"/><circle cx="487.8" cy="475.6" r="1.65"/><circle cx="449.6" cy="481.9" r="1.65"/><circle cx="455.4" cy="485.1" r="1.65"/><circle cx="456.7" cy="488.1" r="1.65"/><circle cx="465" cy="487.7" r="1.65"/><circle cx="447.8" cy="493.4" r="1.65"/><circle cx="455.4" cy="493.4" r="1.65"/><circle cx="462" cy="492.9" r="1.65"/><circle cx="467.4" cy="493.4" r="1.65"/><circle cx="479.3" cy="491.1" r="1.65"/><circle cx="491" cy="491.1" r="1.65"/><circle cx="493.5" cy="487.7" r="1.65"/><circle cx="518.1" cy="411" r="1.65"/><circle cx="520.8" cy="417.3" r="1.65"/><circle cx="506.2" cy="426.3" r="1.65"/><circle cx="506.2" cy="435.6" r="1.65"/><circle cx="515.8" cy="441.8" r="1.65"/><circle cx="522.2" cy="444.8" r="1.65"/><circle cx="516.4" cy="451.1" r="1.65"/><circle cx="524.9" cy="451.1" r="1.65"/><circle cx="524.9" cy="454.3" r="1.65"/><circle cx="534.1" cy="457.3" r="1.65"/><circle cx="502.1" cy="457.3" r="1.65"/><circle cx="506.6" cy="457.3" r="1.65"/><circle cx="506.6" cy="463.2" r="1.65"/><circle cx="517.8" cy="466.4" r="1.65"/><circle cx="541.8" cy="466.4" r="1.65"/><circle cx="513.7" cy="475.6" r="1.65"/><circle cx="516" cy="478.6" r="1.65"/><circle cx="506.6" cy="478.6" r="1.65"/><circle cx="526.5" cy="475.6" r="1.65"/><circle cx="551.9" cy="475.6" r="1.65"/><circle cx="547.1" cy="481.9" r="1.65"/><circle cx="506" cy="484.9" r="1.65"/><circle cx="513.7" cy="484.9" r="1.65"/><circle cx="551.9" cy="484.9" r="1.65"/><circle cx="528.8" cy="487.7" r="1.65"/><circle cx="547.1" cy="487.7" r="1.65"/><circle cx="513.7" cy="491.1" r="1.65"/><circle cx="516.4" cy="491.1" r="1.65"/><circle cx="510.1" cy="493.4" r="1.65"/><circle cx="524.9" cy="493.4" r="1.65"/><circle cx="534.1" cy="493.4" r="1.65"/><circle cx="550.2" cy="493.4" r="1.65"/><circle cx="571.1" cy="463.2" r="1.65"/><circle cx="567.9" cy="469.4" r="1.65"/><circle cx="573.4" cy="484.5" r="1.65"/><circle cx="573.4" cy="488.1" r="1.65"/><circle cx="580" cy="487.7" r="1.65"/><circle cx="587.5" cy="491.1" r="1.65"/><circle cx="408.7" cy="427.8" r="1.65"/><circle cx="408.7" cy="443.4" r="1.65"/><circle cx="408.7" cy="456.4" r="1.65"/><circle cx="408.7" cy="474.6" r="1.65"/><circle cx="408.7" cy="477.2" r="1.65"/><circle cx="408.7" cy="492.8" r="1.65"/></g><rect x="407" y="392" width="2.2" height="102" fill="url(#gd)"/><path class="ax" stroke="#555555" stroke-width="1.0" d="M406.5 293.5V495"/><path class="ax" stroke="#8a8a8a" stroke-width="1.8" d="M655.9 293.5V495"/><path class="ax" stroke="#555555" stroke-width="1.0" d="M406.5 494.5H656.3"/><text class="tk" style="stroke-width:0.22px" transform="translate(402.1,498.1) scale(0.94,1)" font-size="11" text-anchor="end">0.0</text><text class="tk" style="stroke-width:0.22px" transform="translate(402.1,475.77) scale(0.94,1)" font-size="11" text-anchor="end">0.1</text><text class="tk" style="stroke-width:0.22px" transform="translate(402.1,453.43) scale(0.94,1)" font-size="11" text-anchor="end">0.2</text><text class="tk" style="stroke-width:0.22px" transform="translate(402.1,431.1) scale(0.94,1)" font-size="11" text-anchor="end">0.3</text><text class="tk" style="stroke-width:0.22px" transform="translate(402.1,408.77) scale(0.94,1)" font-size="11" text-anchor="end">0.4</text><text class="tk" style="stroke-width:0.22px" transform="translate(402.1,386.43) scale(0.94,1)" font-size="11" text-anchor="end">0.5</text><text class="tk" style="stroke-width:0.22px" transform="translate(402.1,364.1) scale(0.94,1)" font-size="11" text-anchor="end">0.6</text><text class="tk" style="stroke-width:0.22px" transform="translate(402.1,341.77) scale(0.94,1)" font-size="11" text-anchor="end">0.7</text><text class="tk" style="stroke-width:0.22px" transform="translate(402.1,319.43) scale(0.94,1)" font-size="11" text-anchor="end">0.8</text><text class="tk" style="stroke-width:0.22px" transform="translate(402.1,297.1) scale(0.94,1)" font-size="11" text-anchor="end">0.9</text><text class="tk" style="stroke-width:0.22px" transform="translate(659.9,482.17) scale(0.94,1)" font-size="11" text-anchor="start">40</text><text class="tk" style="stroke-width:0.22px" transform="translate(659.9,451.25) scale(0.94,1)" font-size="11" text-anchor="start">50</text><text class="tk" style="stroke-width:0.22px" transform="translate(659.9,420.32) scale(0.94,1)" font-size="11" text-anchor="start">60</text><text class="tk" style="stroke-width:0.22px" transform="translate(659.9,389.4) scale(0.94,1)" font-size="11" text-anchor="start">70</text><text class="tk" style="stroke-width:0.22px" transform="translate(659.9,358.48) scale(0.94,1)" font-size="11" text-anchor="start">80</text><text class="tk" style="stroke-width:0.22px" transform="translate(659.9,327.55) scale(0.94,1)" font-size="11" text-anchor="start">90</text><text class="tk" style="stroke-width:0.22px" transform="translate(659.9,296.63) scale(0.94,1)" font-size="11" text-anchor="start">100</text><text class="tk" style="stroke-width:0.22px" transform="translate(407.1,507.2) scale(0.94,1)" font-size="11" text-anchor="middle">0</text><text class="tk" style="stroke-width:0.22px" transform="translate(445.53,507.2) scale(0.94,1)" font-size="11" text-anchor="middle">2</text><text class="tk" style="stroke-width:0.22px" transform="translate(483.96,507.2) scale(0.94,1)" font-size="11" text-anchor="middle">4</text><text class="tk" style="stroke-width:0.22px" transform="translate(522.39,507.2) scale(0.94,1)" font-size="11" text-anchor="middle">6</text><text class="tk" style="stroke-width:0.22px" transform="translate(560.82,507.2) scale(0.94,1)" font-size="11" text-anchor="middle">8</text><text class="tk" style="stroke-width:0.22px" transform="translate(599.25,507.2) scale(0.94,1)" font-size="11" text-anchor="middle">10</text><text class="tk" style="stroke-width:0.22px" transform="translate(637.68,507.2) scale(0.94,1)" font-size="11" text-anchor="middle">12</text><path class="ax" stroke="#555555" stroke-width="1.0" d="M406.5 494.5v-4M425.72 494.5v-2M444.93 494.5v-4M464.15 494.5v-2M483.36 494.5v-4M502.58 494.5v-2M521.79 494.5v-4M541.01 494.5v-2M560.22 494.5v-4M579.44 494.5v-2M598.65 494.5v-4M617.87 494.5v-2M637.08 494.5v-4M656.3 494.5v-2"/><path class="ax" stroke="#555555" stroke-width="1.0" d="M406.5 494.5h4M406.5 483.33h2M406.5 472.17h4M406.5 461h2M406.5 449.83h4M406.5 438.67h2M406.5 427.5h4M406.5 416.33h2M406.5 405.17h4M406.5 394h2M406.5 382.83h4M406.5 371.67h2M406.5 360.5h4M406.5 349.33h2M406.5 338.17h4M406.5 327h2M406.5 315.83h4M406.5 304.67h2M406.5 293.5h4M656.3 479.04h-4M656.3 463.58h-2M656.3 448.12h-4M656.3 432.65h-2M656.3 417.19h-4M656.3 401.73h-2M656.3 386.27h-4M656.3 370.81h-2M656.3 355.35h-4M656.3 339.88h-2M656.3 324.42h-4M656.3 308.96h-2M656.3 293.5h-4"/><polyline class="cv" points="407,494 407.6,460 408.1,400 408.3,365 408.5,345 408.7,332.6 409.2,327 409.9,325.2 412.9,323.7 419.5,322.9 433,322.1 480,321.2 550,320.5 637.8,319.7"/><path fill="none" stroke="#262626" stroke-width="1.3" d="M414.1 300.5H437.4"/><circle class="sc" cx="426.1" cy="313.4" r="1.65"/><text class="lg" font-size="12.5" x="443.9" y="303.4">axial strain</text><text class="lg" font-size="12.5" x="443.9" y="316">amplitude</text><text class="ti" font-size="12.45" transform="translate(385.5,414.9) rotate(-90)" text-anchor="middle">axial strain/10<tspan dy="-4.5" font-size="7.5">-2</tspan></text><text class="ti" font-size="12.5" transform="translate(681.2,404.35) rotate(-90)" text-anchor="middle">amplitude/dB</text><text class="ti" font-size="12.55" x="524.7" y="514.5">time/h</text><text class="lb r" font-size="21" letter-spacing="1.3" x="519.25" y="538.5" text-anchor="middle">(d)</text></g>
</svg></body></html>
